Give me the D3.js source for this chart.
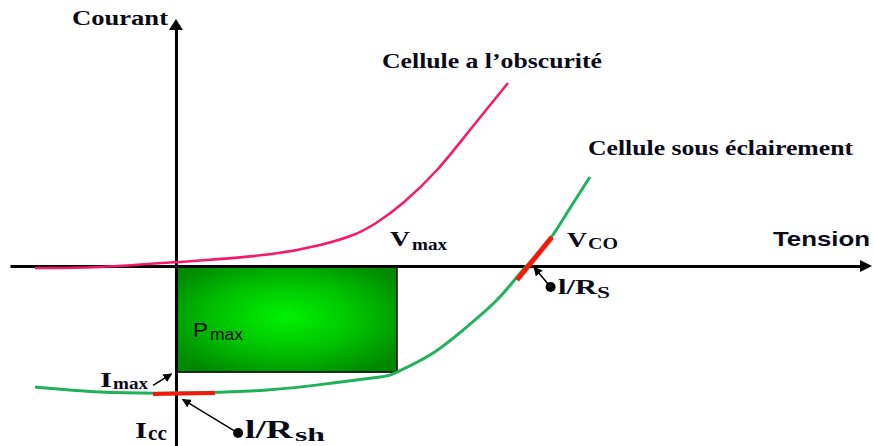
<!DOCTYPE html>
<html><head><meta charset="utf-8">
<script src="https://cdn.jsdelivr.net/npm/d3@7"></script>
<style>html,body{margin:0;padding:0;background:#fff;}svg{display:block;}</style>
</head><body>
<svg id="c" width="874" height="446"></svg>
<script>
// Characteristic curves (voltage, current) in arbitrary units
const darkV = [-0.638,-0.344,0,0.122,0.425,0.652,0.801,0.909,1.027,1.181,1.330,1.502];
const darkI = [-0.016,-0.008,0.030,0.045,0.092,0.165,0.244,0.343,0.496,0.756,1.071,1.441];
const lightV = [-0.638,-0.344,0,0.412,0.710,0.923,1.0,1.149,1.299,1.452,1.570,1.679,1.769,1.873];
const lightI = [-0.953,-0.992,-1.0,-0.976,-0.921,-0.874,-0.835,-0.701,-0.504,-0.268,-0.031,0.181,0.417,0.701];
// key points
const vmax = 1.0, imax = -0.835, icc = -1.0, vco = 1.57;
// tangent segments
const rsSeg = [[1.543,-0.110],[1.701,0.228]];
const rshSeg = [[-0.104,-1.008],[0.176,-1.0]];
const labels = {courant:"Courant", tension:"Tension", dark:"Cellule a l\u2019obscurit\u00e9", light:"Cellule sous \u00e9clairement"};

const svg = d3.select("#c");
const x = d3.scaleLinear().domain([-0.751, 3.104]).range([10, 862]);
const y = d3.scaleLinear().domain([-1.417, 1.874]).range([446, 28]);

const defs = svg.append("defs");
const grad = defs.append("radialGradient").attr("id","pg").attr("cx","50%").attr("cy","48%").attr("r","62%");
grad.append("stop").attr("offset","0%").attr("stop-color","#00f200");
grad.append("stop").attr("offset","50%").attr("stop-color","#00c400");
grad.append("stop").attr("offset","100%").attr("stop-color","#008800");
defs.append("marker").attr("id","ah").attr("viewBox","0 0 10 10").attr("refX",9).attr("refY",5)
  .attr("markerWidth",9).attr("markerHeight",9).attr("markerUnits","userSpaceOnUse").attr("orient","auto")
  .append("path").attr("d","M0,0L10,5L0,10Z").attr("fill","#000");

// Pmax rectangle
svg.append("rect").attr("x", x(0)).attr("y", y(0)).attr("width", x(vmax)-x(0)).attr("height", y(imax)-y(0))
  .attr("fill","url(#pg)").attr("stroke","#000").attr("stroke-width",1.5);

// axes
const gx = svg.append("g").attr("transform",`translate(0,${y(0)})`).call(d3.axisBottom(x).ticks(0).tickSizeOuter(0));
gx.select(".domain").attr("stroke","#000").attr("stroke-width",3);
const gy = svg.append("g").attr("transform",`translate(${x(0)},0)`).call(d3.axisLeft(y).ticks(0).tickSizeOuter(0));
gy.select(".domain").attr("stroke","#000").attr("stroke-width",3);
// arrowheads
const xe = x.range()[1], ye = y.range()[1];
svg.append("path").attr("d",`M${xe-2},${y(0)-6}L${xe+10},${y(0)}L${xe-2},${y(0)+6}Z`).attr("fill","#000");
svg.append("path").attr("d",`M${x(0)-7},${ye+2}L${x(0)},${ye-9}L${x(0)+7},${ye+2}Z`).attr("fill","#000");

const line = d3.line().x(d=>x(d[0])).y(d=>y(d[1])).curve(d3.curveNatural);
svg.append("path").datum(darkV.map((v,i)=>[v,darkI[i]])).attr("d",line)
  .attr("fill","none").attr("stroke","#f5186b").attr("stroke-width",2.5);
svg.append("path").datum(lightV.map((v,i)=>[v,lightI[i]])).attr("d",line)
  .attr("fill","none").attr("stroke","#1fb25a").attr("stroke-width",3);

// tangent segments
const seg = d3.line().x(d=>x(d[0])).y(d=>y(d[1]));
svg.append("path").datum(rsSeg).attr("d",seg).attr("stroke","#f21a0c").attr("stroke-width",5);
svg.append("path").datum(rshSeg).attr("d",seg).attr("stroke","#f21a0c").attr("stroke-width",4);

// annotation arrows
function arrow(x1,y1,x2,y2){
  svg.append("line").attr("x1",x1).attr("y1",y1).attr("x2",x2).attr("y2",y2)
    .attr("stroke","#000").attr("stroke-width",1.5).attr("marker-end","url(#ah)");
}
const bRs = [x(1.695), y(-0.165)];
const bRsh = [x(0.281), y(-1.315)];
svg.append("circle").attr("cx",bRs[0]).attr("cy",bRs[1]).attr("r",5).attr("fill","#000");
svg.append("circle").attr("cx",bRsh[0]).attr("cy",bRsh[1]).attr("r",5).attr("fill","#000");
arrow(bRs[0],bRs[1], x(1.62), y(-0.01));
arrow(bRsh[0],bRsh[1], x(0.03), y(-1.05));
arrow(x(-0.104), y(-0.94), x(-0.02), y(-0.85));

const serif = "'Liberation Serif','DejaVu Serif',serif";
const sans = "'Liberation Sans',Arial,sans-serif";
function txt(s, px, py, size, fam, weight, len){
  const t = svg.append("text").attr("x",px).attr("y",py).attr("font-size",size)
    .attr("font-family",fam).attr("font-weight",weight).attr("fill","#0a0a18").text(s);
  if(len){ t.attr("textLength",len).attr("lengthAdjust","spacingAndGlyphs"); }
  return t;
}
txt(labels.courant, 72, 25, 20, serif, "bold", 96);
txt(labels.dark, 382, 68, 21, serif, "bold", 220);
txt(labels.light, 588, 155, 21, serif, "bold", 265);
txt(labels.tension, 773, 246, 20, sans, "bold", 97);

// subscripted labels: main part, then subscript part
txt("V", 390, 246, 21, serif, "bold", 20);  txt("max", 412, 250, 17, serif, "bold", 35);
txt("V", 567, 247, 21, serif, "bold", 20);  txt("CO", 588, 249, 17, serif, "bold", 30);
txt("l/R", 558, 294, 20, serif, "bold", 39); txt("S", 597, 298, 16, serif, "bold", 13);
txt("P", 193, 337, 20, sans, "normal", 15); txt("max", 210, 340, 16, sans, "normal", 33);
txt("I", 100, 387, 21, serif, "bold", 12);  txt("max", 113, 389, 17, serif, "bold", 35);
txt("I", 135, 438, 24, serif, "bold", 12);  txt("cc", 148, 440, 20, serif, "bold", 19);
txt("l/R", 245, 438, 26, serif, "bold", 48); txt("sh", 295, 441, 19, serif, "bold", 30);
</script>
</body></html>
